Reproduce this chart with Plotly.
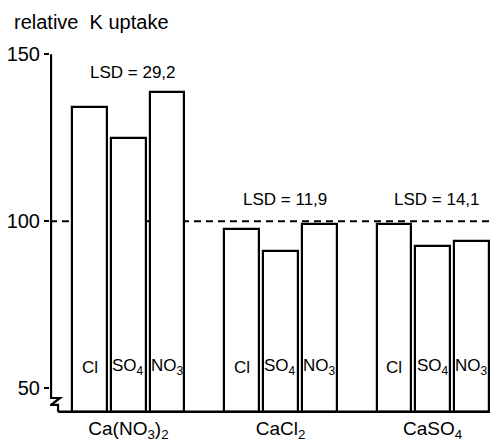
import plotly.graph_objects as go

salts = ["Ca(NO<sub>3</sub>)<sub>2</sub>", "CaCl<sub>2</sub>", "CaSO<sub>4</sub>"]
anions = ["Cl", "SO<sub>4</sub>", "NO<sub>3</sub>"]
# relative K uptake per salt (rows) and anion (columns)
uptake = [
    [134, 125, 138.5],
    [97.5, 91, 99],
    [99, 92.5, 94],
]
lsd = ["LSD = 29,2", "LSD = 11,9", "LSD = 14,1"]
lsd_y = [144.5, 106.5, 106.5]

FONT = "Liberation Sans"
step = 0.256
ymin, ymax = 42, 150
x0, x1 = -0.516, 2.378


def px(p):
    return (p - 128.5) / 152.25


def vy(p):
    return 100 + (223 - p) / 3.383


base = vy(416)

xs, ys = [], []
for g, row in enumerate(uptake):
    for a, v in enumerate(row):
        xs.append(g + (a - 1) * step)
        ys.append(v)

fig = go.Figure()
fig.add_trace(go.Bar(
    x=xs, y=[v - base for v in ys], base=base, width=0.225,
    marker=dict(color="white", line=dict(color="black", width=2.2)),
    hoverinfo="skip", showlegend=False
))

# labels inside the bars
for g in range(len(salts)):
    for a, name in enumerate(anions):
        fig.add_annotation(x=g + (a - 1) * step, y=56.3, text=name, showarrow=False,
                           font=dict(size=17, color="black", family=FONT))

for g, t in enumerate(lsd):
    fig.add_annotation(x=g + 0.03, y=lsd_y[g], text=t, showarrow=False,
                       font=dict(size=17, color="black", family=FONT))

# dashed reference line at 100
fig.add_shape(type="line", xref="x", yref="y", x0=x0, x1=x1, y0=100, y1=100,
              line=dict(color="black", width=2, dash="7px,5px"), layer="below")

# y axis with break
pts = [(51, 54), (51, 402), (60, 402), (51, 409), (58, 409), (58, 416)]
path = "M " + " L ".join(f"{px(a)},{vy(b)}" for a, b in pts)
fig.add_shape(type="path", xref="x", yref="y", path=path,
              line=dict(color="black", width=2.2))
fig.add_shape(type="line", xref="x", yref="y", x0=px(58), x1=x1, y0=base, y1=base,
              line=dict(color="black", width=2.5))

fig.update_layout(
    width=490, height=442,
    margin=dict(l=50, r=0, t=54, b=442 - 419),
    plot_bgcolor="white", paper_bgcolor="white",
    bargap=0,
    font=dict(family=FONT, color="black"),
    xaxis=dict(range=[x0, x1], tickvals=[0, 1, 2], ticktext=salts, ticks="",
               showline=False, showgrid=False, zeroline=False,
               tickfont=dict(size=19, family=FONT)),
    yaxis=dict(range=[ymin, ymax], tickvals=[50, 100, 150], ticks="outside",
               ticklen=5, tickwidth=2, tickcolor="black",
               showline=False, showgrid=False, zeroline=False,
               tickfont=dict(size=20, family=FONT)),
)
fig.add_annotation(xref="paper", yref="paper", x=-0.087, y=1.088, xanchor="left",
                   yanchor="middle", text="relative  K uptake", showarrow=False,
                   font=dict(size=20, family=FONT))

fig.write_html("out.html", config={"displayModeBar": False},
               post_script="document.body.style.margin='0';")
